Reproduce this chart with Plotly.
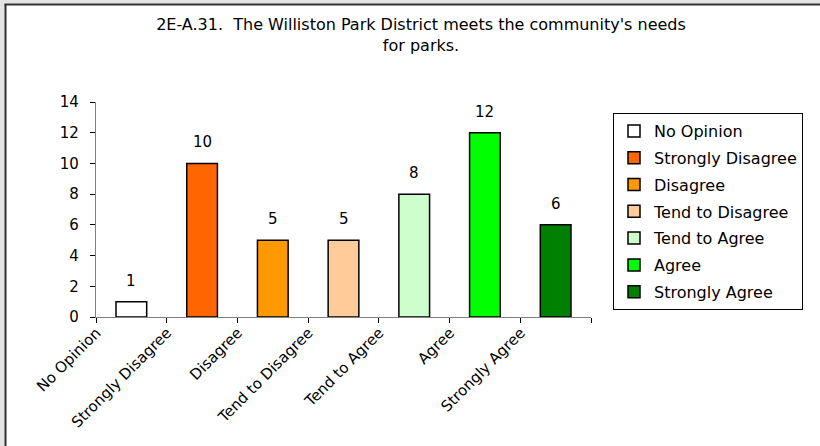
import plotly.graph_objects as go

categories = ["No Opinion", "Strongly Disagree", "Disagree", "Tend to Disagree",
              "Tend to Agree", "Agree", "Strongly Agree"]
values = [1, 10, 5, 5, 8, 12, 6]
colors = ["#FFFFFF", "#FF6600", "#FF9900", "#FFCC99", "#CCFFCC", "#00FF00", "#008000"]
title_text = "2E-A.31.  The Williston Park District meets the community's needs<br>for parks."

W, H = 820, 446
L, R, T, B = 96, 820 - 591, 102, 446 - 317
FONT = "DejaVu Sans"

def px2x(px):
    return (px - L) / (W - L - R)

def px2y(py):
    return ((H - B) - py) / (H - T - B)

fig = go.Figure()
for cat, val, col in zip(categories, values, colors):
    fig.add_trace(go.Bar(
        x=[cat], y=[val], name=cat, legendgroup=cat,
        marker=dict(color=col, line=dict(color="#000000", width=1.5)),
        width=0.434,
    ))

annotations = []
for cat, val in zip(categories, values):
    annotations.append(dict(x=cat, y=val, text=str(val), showarrow=False,
                            yanchor="bottom", yshift=10,
                            font=dict(family=FONT, size=15, color="#000000")))

shapes = [
    # outer gray strips and dark frame lines (page decoration)
    dict(type="rect", xref="paper", yref="paper", x0=px2x(0), x1=px2x(W), y0=px2y(0), y1=px2y(3.5),
         fillcolor="#E4E4E4", line=dict(width=0), layer="below"),
    dict(type="rect", xref="paper", yref="paper", x0=px2x(0), x1=px2x(4.5), y0=px2y(0), y1=px2y(H),
         fillcolor="#E4E4E4", line=dict(width=0), layer="below"),
    dict(type="line", xref="paper", yref="paper", x0=px2x(4.5), x1=px2x(W), y0=px2y(4.5), y1=px2y(4.5),
         line=dict(color="#303030", width=2)),
    dict(type="line", xref="paper", yref="paper", x0=px2x(5.5), x1=px2x(5.5), y0=px2y(4), y1=px2y(H),
         line=dict(color="#303030", width=2)),
]

fig.update_layout(
    width=W, height=H,
    margin=dict(l=L, r=R, t=T, b=B),
    paper_bgcolor="#FFFFFF", plot_bgcolor="#FFFFFF",
    barmode="overlay",
    font=dict(family=FONT, size=14, color="#000000"),
    title=dict(text=title_text, x=421 / W, xanchor="center", xref="container",
               y=1 - 30 / H, yanchor="top", yref="container",
               font=dict(family=FONT, size=16, color="#000000")),
    xaxis=dict(type="category", categoryorder="array", categoryarray=categories,
               showline=True, linecolor="#808080", linewidth=1.2,
               ticks="outside", ticklen=5, tickcolor="#000000", tickwidth=1,
               tickson="boundaries", tickangle=-45, ticklabelshift=-35,
               tickfont=dict(family=FONT, size=15, color="#000000"),
               showgrid=False, zeroline=False, fixedrange=True),
    yaxis=dict(range=[0, 14], dtick=2, tick0=0,
               showline=True, linecolor="#808080", linewidth=1.2,
               ticks="outside", ticklen=5, tickcolor="#000000", tickwidth=1,
               ticklabelstandoff=8,
               tickfont=dict(family=FONT, size=15, color="#000000"),
               showgrid=False, zeroline=False),
    legend=dict(x=px2x(613), y=px2y(113), xanchor="left", yanchor="top",
                bordercolor="#000000", borderwidth=1, bgcolor="#FFFFFF",
                font=dict(family=FONT, size=16, color="#000000"),
                tracegroupgap=3, traceorder="grouped"),
    annotations=annotations,
    shapes=shapes,
    showlegend=True,
)

fig.write_html("out.html", config={"displayModeBar": False},
               post_script="document.body.style.margin='0';")
